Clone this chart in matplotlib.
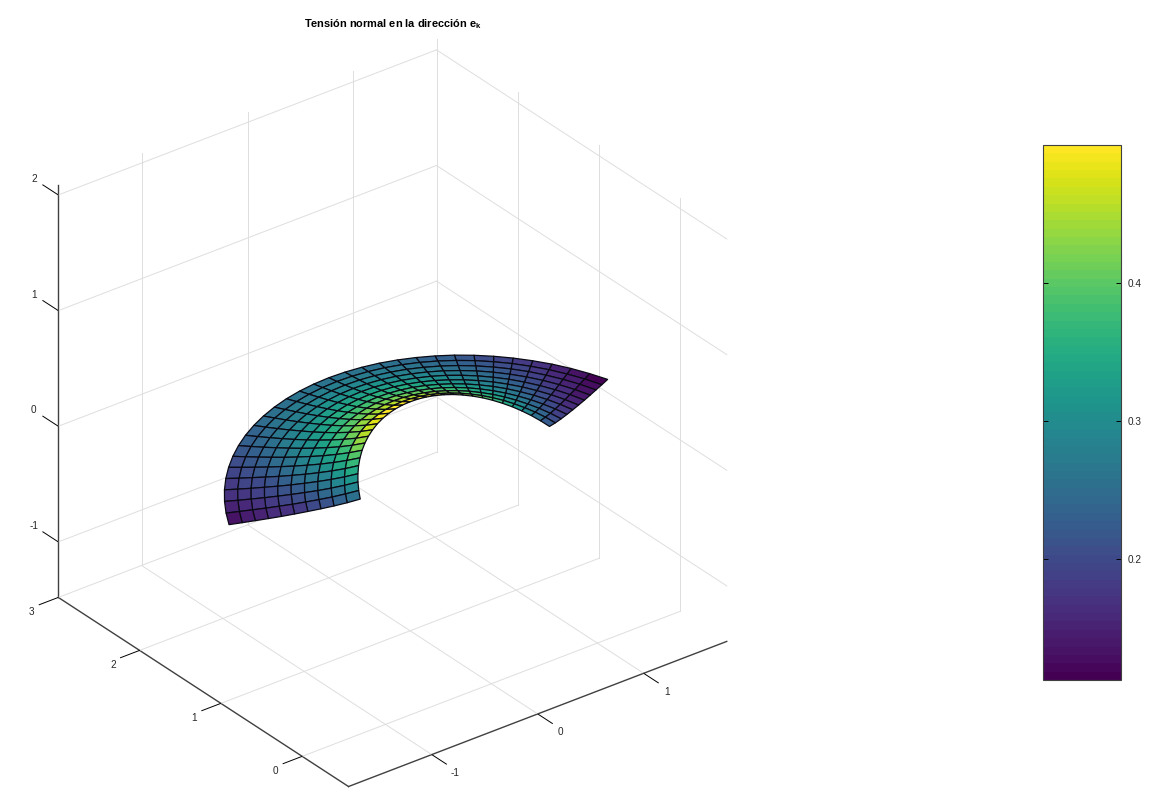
import numpy as np
import matplotlib
matplotlib.use("Agg")
import matplotlib.pyplot as plt
from matplotlib.cm import ScalarMappable
from matplotlib.colors import Normalize
from mpl_toolkits.mplot3d import proj3d

plt.rcParams['font.family'] = ['Liberation Sans', 'DejaVu Sans']
plt.rcParams['mathtext.fontset'] = 'custom'
plt.rcParams['mathtext.bf'] = 'Liberation Sans:bold'
plt.rcParams['mathtext.rm'] = 'Liberation Sans'

W, H = 1166, 798

radii = [1.0, 1.1, 1.2, 1.3, 1.4, 1.5, 1.6, 1.7, 1.8, 1.9, 2.0]
# half of the ring, from the right end up to the middle (the ring is symmetric)
angles_half = [26.70, 30.92, 35.14, 39.36, 43.58, 47.80, 52.02, 56.24,
               60.46, 64.68, 68.90, 73.12, 77.34, 81.56, 85.78, 90.00]
heights_half = [
    [.225, .257, .288, .317, .345, .370, .394, .416, .435, .452, .467, .479, .488, .495, .499, .500],
    [.204, .234, .262, .288, .313, .337, .358, .378, .395, .411, .424, .435, .444, .450, .453, .455],
    [.187, .214, .240, .264, .287, .309, .329, .346, .363, .377, .389, .399, .407, .412, .416, .417],
    [.173, .198, .221, .244, .265, .285, .303, .320, .335, .348, .359, .368, .375, .380, .384, .385],
    [.161, .184, .206, .227, .246, .265, .282, .297, .311, .323, .333, .342, .349, .353, .356, .357],
    [.150, .171, .192, .211, .230, .247, .263, .277, .290, .301, .311, .319, .325, .330, .332, .333],
    [.140, .161, .180, .198, .215, .232, .246, .260, .272, .283, .292, .299, .305, .309, .312, .313],
    [.132, .151, .169, .187, .203, .218, .232, .245, .256, .266, .274, .281, .287, .291, .293, .294],
    [.125, .143, .160, .176, .192, .206, .219, .231, .242, .251, .259, .266, .271, .275, .277, .278],
    [.118, .135, .151, .167, .181, .195, .207, .219, .229, .238, .246, .252, .257, .260, .262, .263],
    [.112, .128, .144, .159, .172, .185, .197, .208, .218, .226, .233, .239, .244, .247, .249, .250],
]

x_ticks = [-1, 0, 1]
y_ticks = [0, 1, 2, 3]
z_ticks = [-1, 0, 1, 2]
cbar_ticks = [0.2, 0.3, 0.4]
x_lim = (-1.786, 1.784)
y_lim = (-0.57, 3.0)
z_lim = (-1.48, 2.09)
c_lim = (0.1123, 0.5)

angles = np.array(angles_half + [180 - a for a in angles_half[-2::-1]])
half = np.array(heights_half)
Z = np.hstack([half, half[:, -2::-1]])
R, T = np.meshgrid(radii, np.radians(angles), indexing='ij')
X = R * np.cos(T)
Y = R * np.sin(T)

cmap = plt.get_cmap('viridis', 64)
norm = Normalize(*c_lim)

fig = plt.figure(figsize=(W / 100, H / 100), dpi=100)

side = 800
left = 392.5 - 0.5135 * side
bottom = (H - 413) - 0.5135 * side
ax = fig.add_axes([left / W, bottom / H, side / W, side / H], projection='3d',
                  proj_type='ortho', computed_zorder=False)
ax.view_init(elev=30, azim=-127.5)
ax.set_xlim(*x_lim)
ax.set_ylim(*y_lim)
ax.set_zlim(*z_lim)
ax.set_box_aspect((x_lim[1] - x_lim[0], y_lim[1] - y_lim[0], z_lim[1] - z_lim[0]), zoom=1.002)

ax.set_xticks([])
ax.set_yticks([])
ax.set_zticks([])
for axis in [ax.xaxis, ax.yaxis, ax.zaxis]:
    axis.set_pane_color((1, 1, 1, 0))
    axis.pane.set_edgecolor((1, 1, 1, 0))
    axis.line.set_color('#404040')
    axis.line.set_linewidth(1.0)
ax.zaxis.set_ticks_position('upper')

# octave puts grid on the back walls and ticks run along another axis than mplot3d's,
# so both are drawn by hand
grid_style = dict(color='#dedede', lw=0.7, zorder=1)
tick_style = dict(color='black', lw=0.7, zorder=3)
x0, x1 = x_lim
y0, y1 = y_lim
z0, z1 = z_lim
for t in x_ticks:
    ax.plot([t, t], [y1, y1], [z0, z1], **grid_style)
    ax.plot([t, t], [y0, y1], [z0, z0], **grid_style)
    ax.plot([t, t], [y0, y0 - 0.18], [z0, z0], **tick_style)
for t in y_ticks:
    ax.plot([x1, x1], [t, t], [z0, z1], **grid_style)
    ax.plot([x0, x1], [t, t], [z0, z0], **grid_style)
    ax.plot([x0, x0 - 0.18], [t, t], [z0, z0], **tick_style)
for t in z_ticks:
    ax.plot([x1, x1], [y0, y1], [t, t], **grid_style)
    ax.plot([x0, x1], [y1, y1], [t, t], **grid_style)
    ax.plot([x0, x0], [y1, y1 + 0.19], [t, t], **tick_style)

ax.plot_surface(X, Y, Z, facecolors=cmap(norm(Z)), rstride=1, cstride=1, shade=False,
                edgecolor='#0a0a14', linewidth=0.9, zorder=2)


def tick_label(x, y, z, s):
    px, py, _ = proj3d.proj_transform(x, y, z, ax.get_proj())
    ax.text2D(px, py, s, transform=ax.transData, fontsize=7.2, color='#262626',
              ha='center', va='center')


for t in x_ticks:
    tick_label(t, y0 - 0.284, z0 - 0.03, str(t))
for t in y_ticks:
    tick_label(x0 - 0.25, t, z0 - 0.04, str(t))
for t in z_ticks:
    tick_label(x0, y1 + 0.3, t, str(t))

fig.text(392.5 / W, 1 - 24 / H, 'Tensión normal en la dirección e$_{\\mathbf{k}}$', fontsize=7.9,
         fontweight='bold', ha='center', va='center', color='black')

cax = fig.add_axes([1043 / W, 1 - 680 / H, 78 / W, 535 / H])
cbar = fig.colorbar(ScalarMappable(norm=norm, cmap=cmap), cax=cax, ticks=cbar_ticks)
cbar.ax.tick_params(direction='in', left=True, right=True, length=3.6, width=0.7,
                    labelsize=7.2, labelcolor='#262626', pad=5)
cbar.ax.set_yticklabels(['0.2', '0.3', '0.4'])
cbar.outline.set_edgecolor('#404040')
cbar.outline.set_linewidth(0.8)

fig.savefig('out.png', dpi=100)
